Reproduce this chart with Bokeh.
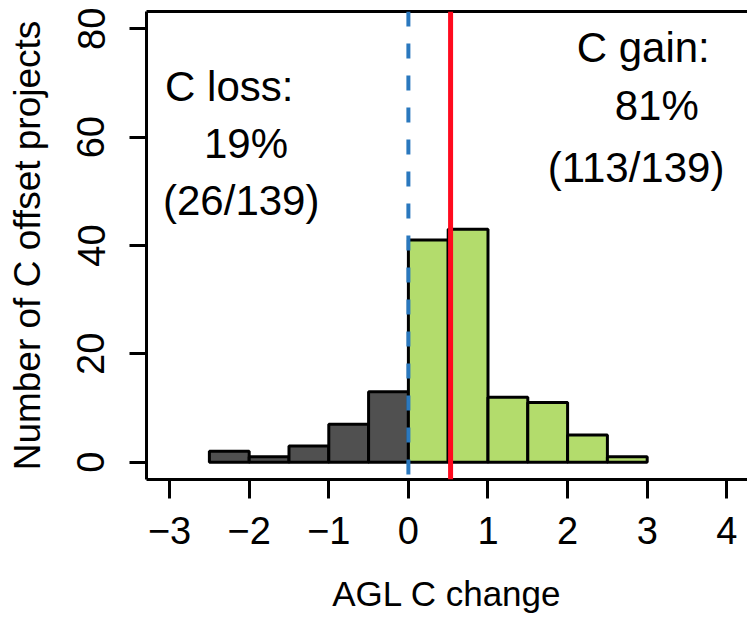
from bokeh.plotting import figure
from bokeh.models import Span, LinearAxis, FixedTicker, Range1d, ColumnDataSource
from bokeh.core.properties import value
from bokeh.embed import file_html
from bokeh.resources import INLINE

# ---- data ----
bin_left = [-2.5, -2.0, -1.5, -1.0, -0.5, 0.0, 0.5, 1.0, 1.5, 2.0, 2.5]
bin_right = [-2.0, -1.5, -1.0, -0.5, 0.0, 0.5, 1.0, 1.5, 2.0, 2.5, 3.0]
counts = [2, 1, 3, 7, 13, 41, 43, 12, 11, 5, 1]
loss_color = "#505050"
gain_color = "#B3DC6C"
zero_line = 0.0
median_change = 0.53

x_ticks = [-3, -2, -1, 0, 1, 2, 3, 4]
x_tick_labels = ["\u22123", "\u22122", "\u22121", "0", "1", "2", "3", "4"]
y_ticks = [0, 20, 40, 60, 80]
y_tick_labels = ["0", "20", "40", "60", "80"]

label_text = ["C loss:", "19%", "(26/139)", "C gain:", "81%", "(113/139)"]
label_x = [-2.25, -2.04, -2.10, 2.95, 3.12, 2.86]
label_y = [69.3, 58.8, 48.3, 76.6, 65.8, 54.4]

FONT = "Liberation Sans"

colors = [loss_color if r <= 0 else gain_color for r in bin_right]
src = ColumnDataSource(dict(left=bin_left, right=bin_right, top=counts,
                            bottom=[0] * len(counts), color=colors))

p = figure(frame_width=601, frame_height=468,
           x_range=Range1d(-3.29, 4.26), y_range=Range1d(-3.2, 83.2),
           output_backend="svg", toolbar_location=None,
           min_border_left=146, min_border_right=0, min_border_top=11,
           min_border_bottom=10)
p.outline_line_color = None
p.grid.visible = False
p.background_fill_color = "white"
p.border_fill_color = "white"

p.quad(left="left", right="right", top="top", bottom="bottom", source=src,
       fill_color="color", line_color="black", line_width=3)

p.add_layout(Span(location=zero_line, dimension="height", line_color="#2A78BE",
                  line_width=4, line_dash="15 17"))
p.add_layout(Span(location=median_change, dimension="height", line_color="#FF0A1E",
                  line_width=5))

p.text(x=label_x, y=label_y, text=label_text, text_font=value(FONT),
       text_font_size="42px", text_align="center", text_baseline="alphabetic",
       text_color="black")

# x axis
xa = p.xaxis[0]
xa.ticker = FixedTicker(ticks=x_ticks)
xa.major_label_overrides = {t: l for t, l in zip(x_ticks, x_tick_labels)}
xa.axis_label = "AGL C change"
for ax in p.axis:
    ax.axis_line_width = 3
    ax.axis_line_color = "black"
    ax.major_tick_line_width = 3
    ax.major_tick_line_color = "black"
    ax.minor_tick_line_color = None
    ax.major_tick_in = 0
    ax.major_label_text_font = FONT
    ax.major_label_text_color = "black"
    ax.axis_label_text_font = FONT
    ax.axis_label_text_font_style = "normal"
    ax.axis_label_text_color = "black"
xa.major_tick_out = 19
xa.major_label_text_font_size = "38px"
xa.major_label_standoff = 18
xa.axis_label_text_font_size = "35px"
xa.axis_label_standoff = 27

ya = p.yaxis[0]
ya.ticker = FixedTicker(ticks=y_ticks)
ya.major_label_overrides = {t: l for t, l in zip(y_ticks, y_tick_labels)}
ya.axis_label = "Number of C offset projects"
ya.major_tick_out = 17
ya.major_label_text_font_size = "38px"
ya.major_label_orientation = "vertical"
ya.major_label_standoff = 25
ya.axis_label_text_font_size = "37px"
ya.axis_label_standoff = 27

# top border of the box
top = LinearAxis(ticker=FixedTicker(ticks=[]), axis_line_width=3,
                 axis_line_color="black", major_tick_out=0, major_tick_in=0,
                 minor_tick_out=0, minor_tick_in=0, major_label_standoff=0,
                 major_label_text_font_size="0px")
p.add_layout(top, "above")

open("out.html", "w").write(file_html(p, INLINE))
